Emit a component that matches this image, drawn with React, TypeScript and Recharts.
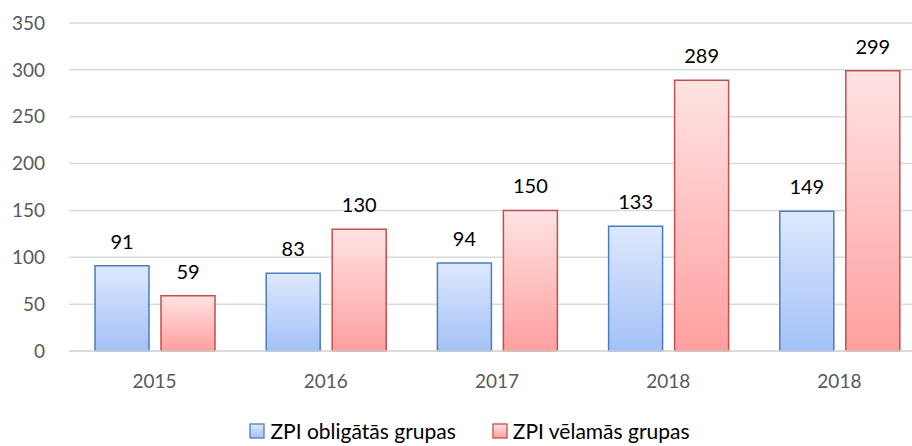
import { BarChart, Bar, XAxis, YAxis, CartesianGrid, Legend, LabelList } from "recharts";

// values
const years = ["2015", "2016", "2017", "2018", "2018"];
const obligatas = [91, 83, 94, 133, 149];
const velamas = [59, 130, 150, 289, 299];
const yTicks = [0, 50, 100, 150, 200, 250, 300, 350];

const data = years.map((year, i) => ({
  year,
  obligatas: obligatas[i],
  velamas: velamas[i],
}));

const font = "Lato, 'Noto Sans', sans-serif";

const legendItems = [
  { name: "ZPI obligātās grupas", fill: "url(#legBlue)", stroke: "#4a7ebb" },
  { name: "ZPI vēlamās grupas", fill: "url(#legRed)", stroke: "#c0504d" },
];

const renderLegend = () => (
  <div
    style={{
      display: "flex",
      justifyContent: "center",
      gap: 36,
      paddingLeft: 14,
      fontFamily: font,
      fontSize: 21,
      lineHeight: "24px",
      color: "#000",
    }}
  >
    {legendItems.map((item) => (
      <div key={item.name} style={{ display: "flex", alignItems: "center" }}>
        <svg width={17} height={17} style={{ marginRight: 4 }}>
          <defs>
            <linearGradient id="legBlue" x1="0" y1="0" x2="0" y2="1">
              <stop offset="0%" stopColor="#dde8fc" />
              <stop offset="100%" stopColor="#a3c1f7" />
            </linearGradient>
            <linearGradient id="legRed" x1="0" y1="0" x2="0" y2="1">
              <stop offset="0%" stopColor="#ffe3e3" />
              <stop offset="100%" stopColor="#ff9f9f" />
            </linearGradient>
          </defs>
          <rect x={1} y={1} width={14} height={14} fill={item.fill} stroke={item.stroke} strokeWidth={1.3} />
        </svg>
        <span>{item.name}</span>
      </div>
    ))}
  </div>
);

export default function App() {
  // the original picture is cropped on the right, so the chart is a bit wider than the frame
  return (
    <div style={{ width: 912, height: 446, background: "#fff", overflow: "hidden" }}>
      <style>{"body{margin:0}"}</style>
      <BarChart
        width={925}
        height={446}
        data={data}
        margin={{ top: 23, right: 0, left: 0, bottom: 0 }}
        barSize={54}
        barGap={12}
      >
        <defs>
          <linearGradient id="gradBlue" x1="0" y1="0" x2="0" y2="1">
            <stop offset="0%" stopColor="#dde8fc" />
            <stop offset="100%" stopColor="#a3c1f7" />
          </linearGradient>
          <linearGradient id="gradRed" x1="0" y1="0" x2="0" y2="1">
            <stop offset="0%" stopColor="#ffe3e3" />
            <stop offset="100%" stopColor="#ff9f9f" />
          </linearGradient>
        </defs>
        <CartesianGrid vertical={false} stroke="#d9d9d9" strokeWidth={1.5} />
        <XAxis
          dataKey="year"
          height={68}
          axisLine={{ stroke: "#d9d9d9", strokeWidth: 1.5 }}
          tickLine={false}
          tickSize={0}
          tickMargin={24}
          tick={{ fill: "#595959", fontSize: 19, fontFamily: font }}
        />
        <YAxis
          width={69}
          domain={[0, 350]}
          ticks={yTicks}
          axisLine={false}
          tickLine={false}
          tickSize={0}
          tickMargin={24}
          tick={{ fill: "#595959", fontSize: 19, fontFamily: font }}
        />
        <Legend verticalAlign="bottom" height={27} content={renderLegend} />
        <Bar dataKey="obligatas" fill="url(#gradBlue)" stroke="#4a7ebb" strokeWidth={1.5} isAnimationActive={false}>
          <LabelList dataKey="obligatas" position="top" offset={17} fill="#000" fontSize={20} fontFamily={font} />
        </Bar>
        <Bar dataKey="velamas" fill="url(#gradRed)" stroke="#c0504d" strokeWidth={1.5} isAnimationActive={false}>
          <LabelList dataKey="velamas" position="top" offset={17} fill="#000" fontSize={20} fontFamily={font} />
        </Bar>
      </BarChart>
    </div>
  );
}
